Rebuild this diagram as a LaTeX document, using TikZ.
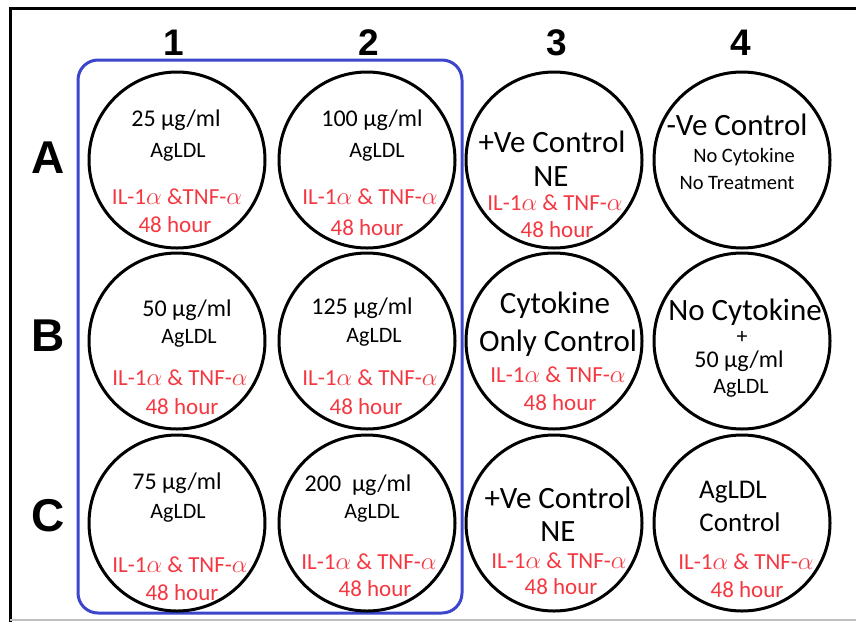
\documentclass[tikz,border=0pt]{standalone}
\usepackage{fontspec}
\setmainfont{Carlito}
\newfontfamily\labelfont{Liberation Sans}
\usepackage{tikz}
\definecolor{welltext}{RGB}{245,55,65}
\definecolor{plateblue}{RGB}{60,70,205}

\begin{document}
\begin{tikzpicture}[x=1pt,y=-1pt,
  well/.style={draw,circle,line width=3pt,minimum size=176pt,inner sep=0pt},
  txt/.style={inner sep=0pt,font=\fontsize{#1}{#1}\selectfont},
  rot/.style={txt=23,text=welltext},
  collabel/.style={inner sep=0pt,font=\labelfont\bfseries\fontsize{37}{37}\selectfont},
  rowlabel/.style={inner sep=0pt,font=\labelfont\bfseries\fontsize{46}{46}\selectfont}]
	 \useasboundingbox (0,0) rectangle (856,622);
	 % Rahmen oben und links, unten grau:
	 \draw[line width=3pt] (856,8) -- (10,8) -- (10,622);
	 \draw[black!25,line width=1.5pt] (10,620) -- (856,620);
	 % blaue Box um Spalte 1 und 2:
	 \draw[plateblue,line width=3pt,rounded corners=20pt] (78,60) rectangle (462,613);
	 % Spalten- und Zeilenbeschriftung:
	 \foreach \c/\x in {1/174,2/369,3/557,4/741}
	 \node[collabel] (k\c) at (\x,43) {\c};
	 \foreach \r/\y in {A/158,B/336,C/516}
	 \node[rowlabel] (z\r) at (48,\y) {\r};
	 % die zwoelf Wells:
	 \foreach \r/\y in {A/160,B/341,C/523}
	 \foreach \c/\x in {1/177,2/367,3/554,4/742}
	 \node[well] (w\r\c) at (\x,\y) {};
	 % Zeile A:
	 \node[txt=24] (cA1) at (176,120) {25 µg/ml};
	 \node[txt=22] (aA1) at (178,152) {AgLDL};
	 \node[rot] (ilA1) at (177,197) {IL-1$\alpha$ \&TNF-$\alpha$};
	 \node[rot] (hA1) at (175,225) {48 hour};
	 \node[txt=24] (cA2) at (372,120) {100 µg/ml};
	 \node[txt=22] (aA2) at (377,152) {AgLDL};
	 \node[txt=31] (pA3) at (552,142) {+Ve Control};
	 \node[txt=31] (nA3) at (551,177) {NE};
	 \node[txt=31] (mA4) at (737,125) {-Ve Control};
	 \node[txt=20.5] (kA4) at (744,157) {No Cytokine};
	 \node[txt=20.5] (tA4) at (737,183) {No Treatment};
	 % Zeile B:
	 \node[txt=24] (cB1) at (187,310) {50 µg/ml};
	 \node[txt=22] (aB1) at (189,338) {AgLDL};
	 \node[txt=24] (cB2) at (362,308) {125 µg/ml};
	 \node[txt=22] (aB2) at (374,337) {AgLDL};
	 \node[txt=31] (kB3) at (555,305) {Cytokine};
	 \node[txt=31] (oB3) at (558,343) {Only Control};
	 \node[txt=31] (kB4) at (745,312) {No Cytokine};
	 \node[txt=22] (pB4) at (742,337) {+};
	 \node[txt=24] (cB4) at (739,361) {50 µg/ml};
	 \node[txt=22] (aB4) at (741,388) {AgLDL};
	 % Zeile C:
	 \node[txt=24] (cC1) at (177,483) {75 µg/ml};
	 \node[txt=22] (aC1) at (178,513) {AgLDL};
	 \node[txt=24] (cC2) at (358,485) {200~~µg/ml};
	 \node[txt=22] (aC2) at (372,513) {AgLDL};
	 \node[txt=31] (pC3) at (558,498) {+Ve Control};
	 \node[txt=31] (nC3) at (558,532) {NE};
	 \node[txt=27] (aC4) at (733,492) {AgLDL};
	 \node[txt=27] (oC4) at (740,522) {Control};
	 % rote Zeilen: Zytokine und Zeit
	 \foreach \n/\x/\y/\u/\v in {A2/370/197/367/228,A3/555/203/557/230,B1/180/378/182/407,B2/370/378/366/407,B3/558/375/560/403,C1/180/565/182/593,C2/369/562/375/589,C3/559/561/561/587,C4/746/562/747/590}
	 {
	 \node[rot] (il\n) at (\x,\y) {IL-1$\alpha$ \& TNF-$\alpha$};
	 \node[rot] (h\n) at (\u,\v) {48 hour};
	 }
	 \end{tikzpicture}
\end{document}
